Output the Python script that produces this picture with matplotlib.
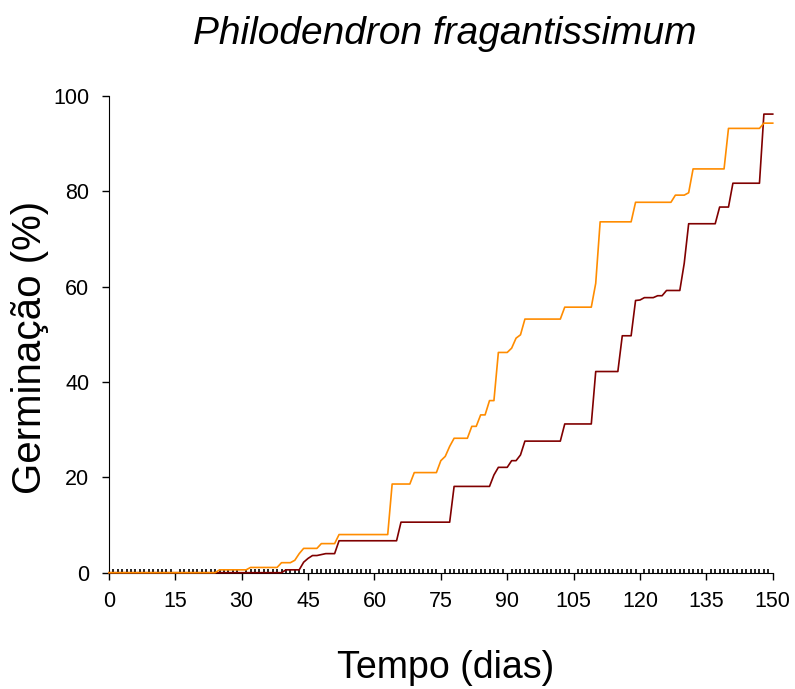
import matplotlib.pyplot as plt
from matplotlib.ticker import MultipleLocator

plt.rcParams['font.family'] = ['Liberation Sans', 'DejaVu Sans']

# Germination curves (% germinated vs days)
days_orange = [0, 24, 25, 31, 32, 38, 39, 41, 42, 43, 44, 47, 48, 51, 52, 63, 64,
               68, 69, 74, 75, 76, 77, 78, 81, 82, 83, 84, 85, 86, 87, 88, 90, 91,
               92, 93, 94, 102, 103, 109, 110, 111, 118, 119, 127, 128, 130, 131,
               132, 139, 140, 147, 148, 150]
germ_orange = [0, 0, 0.6, 0.6, 1.1, 1.1, 2.1, 2.1, 2.6, 4.0, 5.1, 5.1, 6.1, 6.1, 8.0, 8.0, 18.6,
               18.6, 21.0, 21.0, 23.5, 24.4, 26.5, 28.2, 28.2, 30.7, 30.7, 33.1, 33.1, 36.1, 36.1, 46.2, 46.2, 47.1,
               49.2, 49.9, 53.2, 53.2, 55.7, 55.7, 60.7, 73.6, 73.6, 77.7, 77.7, 79.2, 79.2, 79.7,
               84.7, 84.7, 93.2, 93.2, 94.3, 94.3]

days_red = [0, 39, 40, 43, 44, 45, 46, 47, 48, 49, 51, 52, 65, 66, 77, 78, 86, 87, 88,
            90, 91, 92, 93, 94, 102, 103, 109, 110, 115, 116, 118, 119, 120, 121, 123,
            124, 125, 126, 129, 130, 131, 137, 138, 140, 141, 147, 148, 150]
germ_red = [0, 0, 0.6, 0.6, 2.2, 3.0, 3.6, 3.6, 3.8, 4.0, 4.0, 6.7, 6.7, 10.6, 10.6, 18.1, 18.1, 20.5, 22.1,
            22.1, 23.5, 23.5, 24.7, 27.6, 27.6, 31.2, 31.2, 42.2, 42.2, 49.7, 49.7, 57.1, 57.2, 57.7, 57.7,
            58.1, 58.1, 59.2, 59.2, 64.9, 73.2, 73.2, 76.7, 76.7, 81.7, 81.7, 96.2, 96.2]

fig = plt.figure(figsize=(7.95, 6.89), dpi=100)
ax = fig.add_axes([0.137, 0.1688, 0.835, 0.6919])

ax.plot(days_red, germ_red, color='#800000', lw=1.2, clip_on=False, zorder=3)
ax.plot(days_orange, germ_orange, color='#FF8C00', lw=1.2, clip_on=False, zorder=4)

ax.set_xlim(0, 150)
ax.set_ylim(0, 100)
ax.xaxis.set_major_locator(MultipleLocator(15))
ax.xaxis.set_minor_locator(MultipleLocator(1))
ax.yaxis.set_major_locator(MultipleLocator(20))

ax.spines['top'].set_visible(False)
ax.spines['right'].set_visible(False)
ax.tick_params(axis='x', which='major', direction='out', length=5, width=1, labelsize=15.5, pad=8)
ax.tick_params(axis='x', which='minor', direction='in', length=3, width=1.2)
ax.tick_params(axis='y', which='major', direction='out', length=5, width=1, labelsize=15.5, pad=9)

fig.text(0.56, 0.951, 'Philodendron fragantissimum', fontsize=28, style='italic',
         ha='center', va='center')
fig.text(0.56, 0.03, 'Tempo (dias)', fontsize=27, ha='center', va='center')
fig.text(0.038, 0.496, 'Germinação (%)', fontsize=29, rotation=90, ha='center', va='center')

plt.savefig('out.png', dpi=100)
